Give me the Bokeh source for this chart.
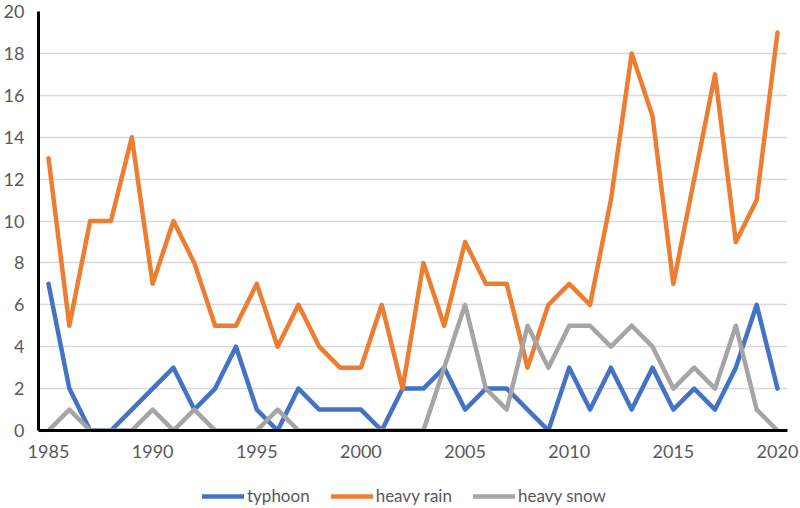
from bokeh.plotting import figure
from bokeh.layouts import column
from bokeh.models import Legend, LegendItem, FixedTicker, Range1d
from bokeh.embed import file_html
from bokeh.resources import INLINE

years = list(range(1985, 2021))
typhoon = [7, 2, 0, 0, 1, 2, 3, 1, 2, 4, 1, 0, 2, 1, 1, 1, 0, 2, 2, 3,
           1, 2, 2, 1, 0, 3, 1, 3, 1, 3, 1, 2, 1, 3, 6, 2]
heavy_rain = [13, 5, 10, 10, 14, 7, 10, 8, 5, 5, 7, 4, 6, 4, 3, 3, 6, 2, 8, 5,
              9, 7, 7, 3, 6, 7, 6, 11, 18, 15, 7, 12, 17, 9, 11, 19]
heavy_snow = [0, 1, 0, 0, 0, 1, 0, 1, 0, 0, 0, 1, 0, 0, 0, 0, 0, 0, 0, 3,
              6, 2, 1, 5, 3, 5, 5, 4, 5, 4, 2, 3, 2, 5, 1, 0]
series_names = ["typhoon", "heavy rain", "heavy snow"]
series_values = [typhoon, heavy_rain, heavy_snow]
colors = ["#4472C4", "#ED7D31", "#A5A5A5"]
x_ticks = [1985, 1990, 1995, 2000, 2005, 2010, 2015, 2020]
y_ticks = list(range(0, 21, 2))

FONT = "Lato"
LABEL_COLOR = "#595959"
LINE_W = 4.5

p = figure(width=800, height=472, output_backend="svg", toolbar_location=None,
           x_range=Range1d(1984.52, 2020.48), y_range=Range1d(0, 20),
           min_border_left=37, min_border_right=13, min_border_top=11,
           min_border_bottom=42)
p.outline_line_color = None
p.background_fill_color = "white"
p.border_fill_color = "white"

for name, vals, c in zip(series_names, series_values, colors):
    p.line(years, vals, line_color=c, line_width=LINE_W, line_join="round", line_cap="round")

# axes
p.xaxis.ticker = FixedTicker(ticks=x_ticks)
p.yaxis.ticker = FixedTicker(ticks=y_ticks)
for ax in (p.xaxis, p.yaxis):
    ax.axis_line_color = "black"
    ax.axis_line_width = 3
    ax.major_tick_line_color = None
    ax.minor_tick_line_color = None
    ax.major_tick_out = 0
    ax.major_tick_in = 0
    ax.major_label_text_font = FONT
    ax.major_label_text_font_size = "18px"
    ax.major_label_text_color = LABEL_COLOR
p.yaxis.major_label_standoff = 14
p.xaxis.major_label_standoff = 14

p.xgrid.grid_line_color = None
p.ygrid.ticker = FixedTicker(ticks=y_ticks)
p.ygrid.grid_line_color = "#D9D9D9"
p.ygrid.grid_line_width = 1.5

# legend strip below the chart (series drawn off-view, only their legend shows)
pl = figure(width=800, height=34, output_backend="svg", toolbar_location=None,
            x_axis_location=None, y_axis_location=None,
            min_border=0, x_range=Range1d(0, 1), y_range=Range1d(0, 1))
pl.outline_line_color = None
pl.xgrid.grid_line_color = None
pl.ygrid.grid_line_color = None
legend_renderers = []
for name, vals, c in zip(series_names, series_values, colors):
    legend_renderers.append(pl.line(years, vals, line_color=c, line_width=LINE_W, line_cap="round"))

legend = Legend(items=[LegendItem(label=n, renderers=[r]) for n, r in zip(series_names, legend_renderers)],
                orientation="horizontal", location=(164, 0),
                label_text_font=FONT, label_text_font_size="17px",
                label_text_color=LABEL_COLOR, glyph_width=42, glyph_height=16,
                label_standoff=3, spacing=21, border_line_color=None,
                background_fill_alpha=0, margin=0, padding=2)
pl.add_layout(legend, "center")

layout = column(p, pl, spacing=0)
open("out.html", "w").write(file_html(layout, INLINE))
